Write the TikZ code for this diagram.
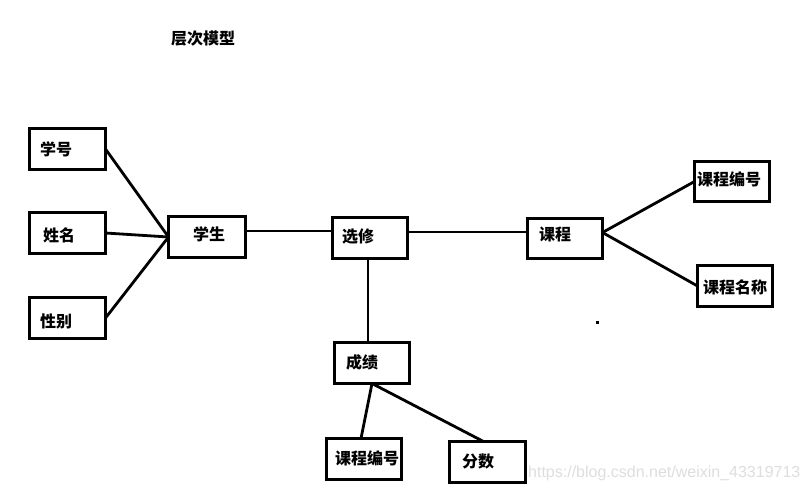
\documentclass[tikz,border=0pt]{standalone}
\usepackage{fontspec}
\newfontfamily\cjk{Noto Sans CJK SC}
\newfontfamily\wmfont{Liberation Sans}
\begin{document}
\begin{tikzpicture}[x=1pt,y=-1pt,
  box/.style={draw=black,line width=2.8pt,rectangle,inner sep=0pt,outer sep=0pt,minimum width=75pt,minimum height=41pt},
  lbl/.style={anchor=west,inner sep=0pt,font=\cjk\bfseries\fontsize{16}{16}\selectfont},
  conn/.style={line width=2.8pt}]
\useasboundingbox[fill=white] (0,0) rectangle (809,493);
% title
\node[lbl] (title) at (171,39) {层次模型};
% boxes
\node[box,minimum width=76pt] (xh) at (67.5,149) {};
\node[box,minimum width=76pt] (xm) at (67.5,233) {};
\node[box,minimum width=76pt] (xb) at (67.5,318) {};
\node[box,minimum width=77pt] (xs) at (207,237) {};
\node[box] (xx) at (370,238) {};
\node[box,minimum height=40pt] (kc) at (565,238.5) {};
\node[box,minimum height=40pt] (kbr) at (732,181.5) {};
\node[box] (kmc) at (735,286) {};
\node[box] (cj) at (372,363) {};
\node[box] (kbb) at (364,459) {};
\node[box,minimum width=76pt] (fs) at (487.5,462) {};
% labels
\node[lbl] (t1) at (40,149) {学号};
\node[lbl] (t2) at (43,235) {姓名};
\node[lbl] (t3) at (40,321) {性别};
\node[lbl] (t4) at (193,234) {学生};
\node[lbl] (t5) at (342,237) {选修};
\node[lbl] (t6) at (539,234) {课程};
\node[lbl] (t7) at (697,179) {课程编号};
\node[lbl] (t8) at (703,287) {课程名称};
\node[lbl] (t9) at (346,362) {成绩};
\node[lbl] (t10) at (335,458) {课程编号};
\node[lbl] (t11) at (462,461) {分数};
% connectors
\draw[conn] (xh.east) -- (xs.west);
\draw[conn] (xm.east) -- (xs.west);
\draw[conn] (xb.east) -- (xs.west);
\draw[conn] ([yshift=6pt]xs.east) -- ([yshift=7pt]xx.west);
\draw[conn] ([yshift=6pt]xx.east) -- ([yshift=6.5pt]kc.west);
\draw[conn] ([xshift=-2pt]xx.south) -- ([xshift=-2pt]xx.south |- cj.north);
\draw[conn] ([yshift=6pt]kc.east) -- (kbr.west);
\draw[conn] ([yshift=6pt]kc.east) -- (kmc.west);
\draw[conn] (cj.south) -- ([xshift=-3pt]kbb.north);
\draw[conn] (cj.south) -- ([xshift=-4pt]fs.north);
% stray dot
\fill[black] (596,321) rectangle (599,324);
% watermark
\node[anchor=west,inner sep=0pt,text=black!13,font=\wmfont\fontsize{16}{16}\selectfont] (wm) at (528,473) {https://blog.csdn.net/weixin\_43319713};
\end{tikzpicture}
\end{document}
